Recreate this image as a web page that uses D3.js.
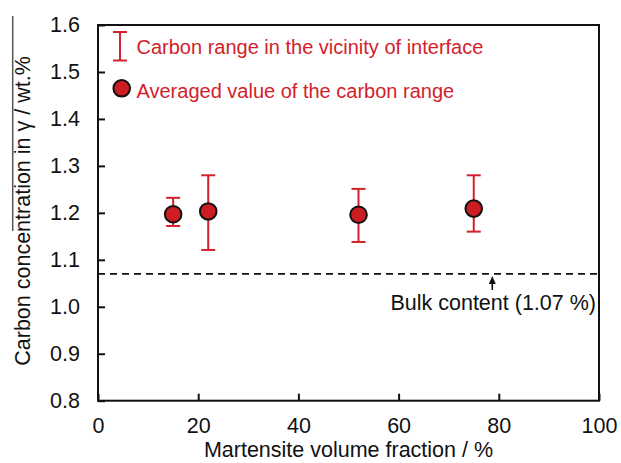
<!DOCTYPE html>
<html>
<head>
<meta charset="utf-8">
<script src="https://cdn.jsdelivr.net/npm/d3@7"></script>
<style>
  html, body { margin: 0; padding: 0; background: #fff; }
  svg { display: block; font-family: "Liberation Sans", Arial, sans-serif; }
</style>
</head>
<body>
<svg id="chart" width="621" height="463"></svg>
<script>
// Martensite volume fraction (%) of each specimen
const fractions = [15, 22, 52, 75];
// Averaged carbon concentration in austenite (wt.%)
const averages = [1.197, 1.203, 1.196, 1.209];
// Carbon range near the interface (wt.%)
const rangeLow = [1.172, 1.121, 1.138, 1.160];
const rangeHigh = [1.232, 1.280, 1.251, 1.280];
// Bulk carbon content of the steel
const bulkContent = 1.07;
const bulkArrowAt = 78.7;

const xTicks = [0, 20, 40, 60, 80, 100];
const yTicks = [0.8, 0.9, 1.0, 1.1, 1.2, 1.3, 1.4, 1.5, 1.6];

const legendLabels = [
  "Carbon range in the vicinity of interface",
  "Averaged value of the carbon range"
];

const red = "#d3212b";
const markerRed = "#cc1d22";

const svg = d3.select("#chart");
const plotLeft = 98, plotRight = 599, plotTop = 25, plotBottom = 400.7;

const x = d3.scaleLinear().domain([0, 100]).range([plotLeft, plotRight]);
const y = d3.scaleLinear().domain([0.8, 1.6]).range([plotBottom, plotTop]);

// Y axis: ticks point inward
const yAxis = svg.append("g")
  .attr("transform", `translate(${plotLeft},0)`)
  .call(d3.axisLeft(y).tickValues(yTicks).tickFormat(d3.format(".1f"))
    .tickSizeInner(-7).tickSizeOuter(0).tickPadding(18));
yAxis.select(".domain").remove();
yAxis.selectAll(".tick line").attr("stroke", "#111").attr("stroke-width", 2);
yAxis.selectAll(".tick text").attr("fill", "#111").attr("font-size", 21.5)
  .attr("font-family", "Liberation Sans, Arial, sans-serif");

// X axis: ticks point inward
const xAxis = svg.append("g")
  .attr("transform", `translate(0,${plotBottom})`)
  .call(d3.axisBottom(x).tickValues(xTicks).tickFormat(d3.format("d"))
    .tickSizeInner(-7).tickSizeOuter(0).tickPadding(17));
xAxis.select(".domain").remove();
xAxis.selectAll(".tick line").attr("stroke", "#111").attr("stroke-width", 2);
xAxis.selectAll(".tick text").attr("fill", "#111").attr("font-size", 21.5)
  .attr("font-family", "Liberation Sans, Arial, sans-serif");

// Plot frame
svg.append("rect")
  .attr("x", x(0)).attr("y", y(1.6))
  .attr("width", x(100) - x(0)).attr("height", y(0.8) - y(1.6))
  .attr("fill", "none").attr("stroke", "#111").attr("stroke-width", 2);

// Bulk content reference line
svg.append("line")
  .attr("x1", x(0)).attr("x2", x(100))
  .attr("y1", y(bulkContent)).attr("y2", y(bulkContent))
  .attr("stroke", "#111").attr("stroke-width", 1.8)
  .attr("stroke-dasharray", "7,5");

// Arrow pointing up at the bulk line
const ax = x(bulkArrowAt), ay = y(bulkContent);
svg.append("line")
  .attr("x1", ax).attr("x2", ax)
  .attr("y1", ay + 16).attr("y2", ay + 6)
  .attr("stroke", "#111").attr("stroke-width", 1.6);
svg.append("path")
  .attr("d", `M${ax - 3.5},${ay + 10} L${ax},${ay + 2} L${ax + 3.5},${ay + 10} Z`)
  .attr("fill", "#111");

svg.append("text")
  .attr("x", x(100) - 3).attr("y", ay + 36)
  .attr("text-anchor", "end")
  .attr("font-size", 21.5).attr("fill", "#111")
  .text(`Bulk content (${bulkContent.toFixed(2)} %)`);

// Error bars for the carbon range
const data = fractions.map((f, i) => ({
  f, avg: averages[i], lo: rangeLow[i], hi: rangeHigh[i]
}));
const cap = 7;
const bars = svg.append("g").attr("stroke", red).attr("stroke-width", 2);
bars.selectAll("line.stem").data(data).join("line")
  .attr("class", "stem")
  .attr("x1", d => x(d.f)).attr("x2", d => x(d.f))
  .attr("y1", d => y(d.lo)).attr("y2", d => y(d.hi));
bars.selectAll("line.capHi").data(data).join("line")
  .attr("class", "capHi")
  .attr("x1", d => x(d.f) - cap).attr("x2", d => x(d.f) + cap)
  .attr("y1", d => y(d.hi)).attr("y2", d => y(d.hi));
bars.selectAll("line.capLo").data(data).join("line")
  .attr("class", "capLo")
  .attr("x1", d => x(d.f) - cap).attr("x2", d => x(d.f) + cap)
  .attr("y1", d => y(d.lo)).attr("y2", d => y(d.lo));

// Averaged values
svg.append("g").selectAll("circle").data(data).join("circle")
  .attr("cx", d => x(d.f)).attr("cy", d => y(d.avg)).attr("r", 8.3)
  .attr("fill", markerRed).attr("stroke", "#111").attr("stroke-width", 2);

// Legend
const lg = svg.append("g");
lg.append("line").attr("x1", 120).attr("x2", 120).attr("y1", 32).attr("y2", 60.5)
  .attr("stroke", red).attr("stroke-width", 2);
lg.append("line").attr("x1", 113).attr("x2", 127).attr("y1", 32).attr("y2", 32)
  .attr("stroke", red).attr("stroke-width", 2);
lg.append("line").attr("x1", 113).attr("x2", 127).attr("y1", 60.5).attr("y2", 60.5)
  .attr("stroke", red).attr("stroke-width", 2);
lg.append("circle").attr("cx", 121.7).attr("cy", 88.3).attr("r", 8.3)
  .attr("fill", markerRed).attr("stroke", "#111").attr("stroke-width", 2);
lg.selectAll("text").data(legendLabels).join("text")
  .attr("x", 136.5).attr("y", (d, i) => i === 0 ? 54 : 97.5)
  .attr("font-size", 20).attr("fill", red)
  .text(d => d);

// Axis titles
svg.append("text")
  .attr("x", (plotLeft + plotRight) / 2).attr("y", 457)
  .attr("text-anchor", "middle").attr("font-size", 21.5).attr("fill", "#111")
  .text("Martensite volume fraction / %");

svg.append("text")
  .attr("transform", "translate(29.5,211) rotate(-90)")
  .attr("text-anchor", "middle").attr("font-size", 21.5).attr("fill", "#111")
  .text("Carbon concentration in γ / wt.%");

// Bar over the concentration symbol
svg.append("line")
  .attr("x1", 12.7).attr("x2", 12.7).attr("y1", 16).attr("y2", 231)
  .attr("stroke", "#555").attr("stroke-width", 1.5);
</script>
</body>
</html>
